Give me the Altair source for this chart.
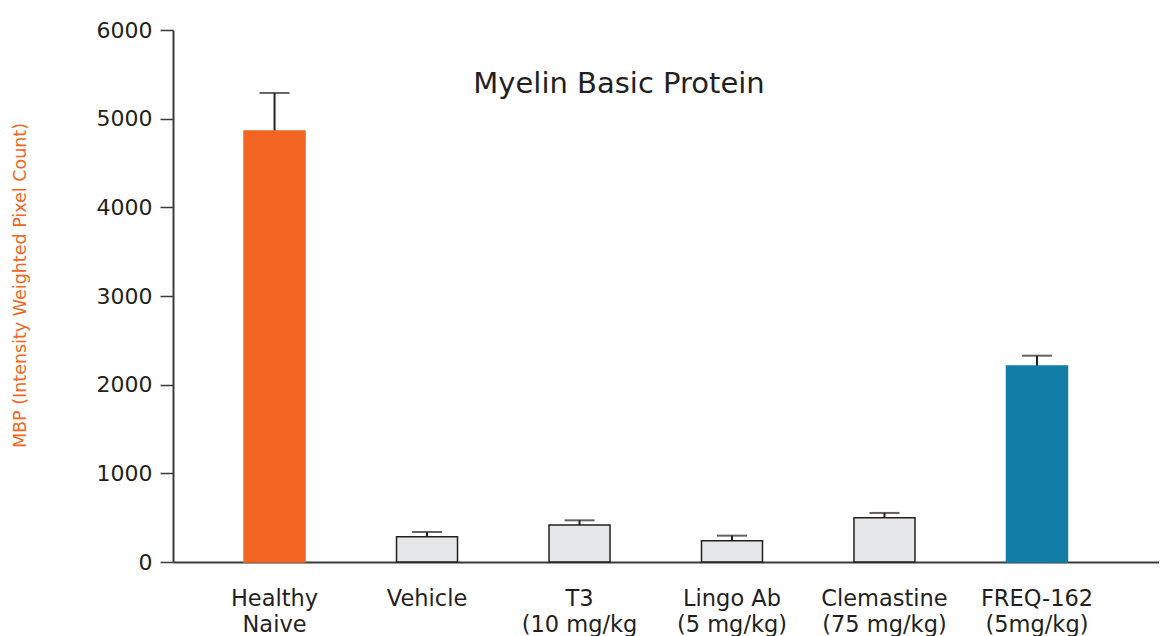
import altair as alt
import pandas as pd

categories = ["Healthy\nNaive", "Vehicle", "T3\n(10 mg/kg", "Lingo Ab\n(5 mg/kg)",
              "Clemastine\n(75 mg/kg)", "FREQ-162\n(5mg/kg)"]
means = [4860, 285, 417, 240, 500, 2210]
uppers = [5290, 338, 470, 297, 553, 2327]
y_ticks = [0, 1000, 2000, 3000, 4000, 5000, 6000]
chart_title = "Myelin Basic Protein"
y_title = "MBP (Intensity Weighted Pixel Count)"

fill_colors = ["#f26522", "#e6e7e8", "#e6e7e8", "#e6e7e8", "#e6e7e8", "#127ea8"]
stroke_colors = ["#f26522", "#231f20", "#231f20", "#231f20", "#231f20", "#127ea8"]
FONT = "DejaVu Sans"
INK = "#231f20"

df = pd.DataFrame({"cat": categories, "value": means, "upper": uppers})

x_enc = alt.X(
    "cat:N",
    sort=categories,
    scale=alt.Scale(paddingInner=0.6, paddingOuter=0.533, align=0.437),
    axis=alt.Axis(
        title=None, ticks=False, tickSize=0, labelAngle=0,
        labelExpr="split(datum.label, '\\n')",
        labelFont=FONT, labelFontSize=22.5, labelColor=INK,
        labelLineHeight=26, labelPadding=25,
        domainColor="#3a3a3a", domainWidth=2,
    ),
)
y_scale = alt.Scale(domain=[0, 6000], nice=False, zero=True)

base = alt.Chart(df).encode(x=x_enc)

rules = base.mark_rule(strokeWidth=2, color=INK).encode(
    y=alt.Y("value:Q", scale=y_scale,
            axis=alt.Axis(
                values=y_ticks, format="d", grid=False,
                tickSize=13, tickColor="#3a3a3a", tickWidth=1.5,
                domainColor="#3a3a3a", domainWidth=2,
                labelFont=FONT, labelFontSize=22, labelColor=INK, labelPadding=8,
                title=y_title, titleFont=FONT, titleFontSize=17.5,
                titleFontWeight="normal", titleColor="#f26522",
                titleAngle=-90, titleBaseline="middle", titleAlign="center",
                titleX=-153, titleY=255,
            )),
    y2="upper:Q",
)
caps = base.mark_tick(size=30, thickness=2, color=INK).encode(
    y=alt.Y("upper:Q", scale=y_scale)
)
bars = base.mark_bar(strokeWidth=1.5).encode(
    y=alt.Y("value:Q", scale=y_scale),
    color=alt.Color("cat:N", scale=alt.Scale(domain=categories, range=fill_colors), legend=None),
    stroke=alt.Stroke("cat:N", scale=alt.Scale(domain=categories, range=stroke_colors), legend=None),
)

title_text = alt.Chart(pd.DataFrame({"t": [chart_title]})).mark_text(
    font=FONT, fontSize=29, color=INK, align="center", baseline="alphabetic"
).encode(text="t:N", x=alt.value(446), y=alt.value(63))

chart = alt.layer(rules, caps, bars, title_text).properties(
    width=986, height=532,
    autosize=alt.AutoSizeParams(type="none"),
    padding={"left": 165, "top": 22, "right": 0, "bottom": 76},
).configure_view(stroke=None)

chart.save("out.html", embed_options={"renderer": "svg", "actions": False})
